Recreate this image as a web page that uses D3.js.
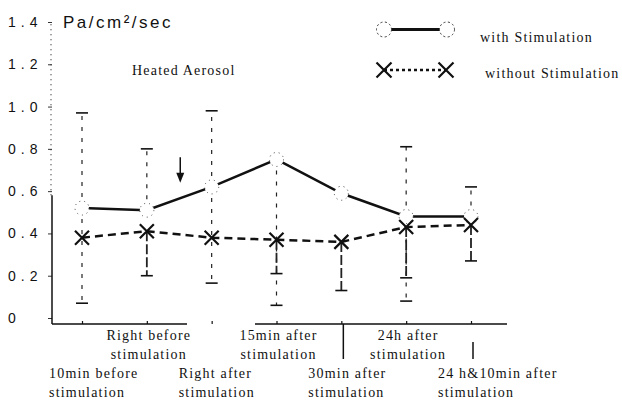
<!DOCTYPE html>
<html>
<head>
<meta charset="utf-8">
<script src="https://cdnjs.cloudflare.com/ajax/libs/d3/7.8.5/d3.min.js"></script>
<style>
  body { margin: 0; background: #fff; }
  text { fill: #111; }
  .serif { font-family: "Liberation Serif", serif; font-size: 14px; letter-spacing: 1.2px; }
  .sans { font-family: "Liberation Sans", sans-serif; }
</style>
</head>
<body>
<script>

// Time points on the x axis
var categories = [
  "10min before stimulation",
  "Right before stimulation",
  "Right after stimulation",
  "15min after stimulation",
  "30min after stimulation",
  "24h after stimulation",
  "24 h&10min after stimulation"
];

// Mean values (Pa/cm2/sec)
var withStim = [0.52, 0.51, 0.62, 0.75, 0.59, 0.48, 0.48];
var withoutStim = [0.38, 0.41, 0.38, 0.37, 0.36, 0.43, 0.44];

// Error bar ends that can still be seen in the scan, null where lost
var withHigh = [0.97, 0.80, 0.98, null, null, 0.81, 0.62];
var withLow = [0.07, null, 0.165, 0.06, null, 0.08, null];
var withoutHigh = [null, null, null, null, null, null, null];
var withoutLow = [null, 0.20, null, 0.21, 0.13, 0.19, 0.27];

var yTicks = [0, 0.2, 0.4, 0.6, 0.8, 1.0, 1.2, 1.4];

// arrow marks the stimulation, between point 2 and 3
var arrowFrom = 0.76;
var arrowTo = 0.64;

var w = 622;
var h = 405;

var svg = d3.select("body")
            .append("svg")
            .attr("width", w)
            .attr("height", h);

var xScale = d3.scalePoint()
               .domain(categories)
               .range([82, 471]);

var yScale = d3.scaleLinear()
               .domain([0, 1.4])
               .range([318, 22]);

var axisY = 324;
var axisLeftX = 52;

// Y axis, labels are left aligned in the original
var yAxis = svg.append("g")
               .attr("transform", `translate(${axisLeftX}, 0)`)
               .call(d3.axisLeft(yScale)
                       .tickValues(yTicks)
                       .tickSize(4)
                       .tickFormat(d => d === 0 ? "0" : d3.format(".1f")(d)));

yAxis.select(".domain").remove();
yAxis.selectAll("text")
     .attr("class", "sans")
     .attr("x", -44)
     .attr("text-anchor", "start")
     .style("font-size", "14px")
     .style("letter-spacing", "5px");
yAxis.selectAll("line").attr("stroke", "#333");

// solid lower part of the y axis, dotted above
svg.append("line")
   .attr("x1", axisLeftX).attr("x2", axisLeftX)
   .attr("y1", axisY).attr("y2", yScale(0.58))
   .attr("stroke", "#111")
   .attr("stroke-width", 1.5);

svg.append("line")
   .attr("x1", axisLeftX - 1).attr("x2", axisLeftX - 1)
   .attr("y1", yScale(0.58)).attr("y2", yScale(1.4))
   .attr("stroke", "#333")
   .attr("stroke-width", 1.2)
   .attr("stroke-dasharray", "1,4");

// X axis
var xAxis = svg.append("g")
               .attr("transform", `translate(0, ${axisY})`)
               .call(d3.axisBottom(xScale)
                       .tickSize(-3)
                       .tickSizeOuter(0)
                       .tickFormat(""));
xAxis.select(".domain").remove();
xAxis.selectAll("line").attr("stroke", "#111").attr("stroke-width", 1.2);

svg.append("line")
   .attr("x1", axisLeftX).attr("x2", 507)
   .attr("y1", axisY).attr("y2", axisY)
   .attr("stroke", "#111")
   .attr("stroke-width", 1.5)
   .attr("stroke-dasharray", "135,68,400");

// category labels, alternating rows
categories.forEach(function(c, i){
  var words = c.split(" ");
  var line1 = words.slice(0, -1).join(" ");
  var line2 = words[words.length - 1];
  var upper = i % 2 == 1;
  var t = svg.append("text")
             .attr("class", "serif")
             .attr("text-anchor", upper ? "middle" : "start")
             .attr("x", upper ? xScale(c) + 2 : xScale(c) - 33)
             .attr("y", upper ? 340 : 378);
  t.append("tspan").text(line1);
  t.append("tspan")
   .attr("x", upper ? xScale(c) + 2 : xScale(c) - 33)
   .attr("dy", 19)
   .text(line2);
});

// leader lines for the lower labels that survived
[4, 6].forEach(function(i){
  svg.append("line")
     .attr("x1", xScale(categories[i]) + 2).attr("x2", xScale(categories[i]) + 2)
     .attr("y1", i == 4 ? axisY : 342).attr("y2", 359)
     .attr("stroke", "#111")
     .attr("stroke-width", 1.5);
});

// Error bars, faded and broken like the scan
function errorBars(means, highs, lows, dash, width){
  means.forEach(function(m, i){
    var cx = xScale(categories[i]);
    [highs[i], lows[i]].forEach(function(end){
      if (end == null) return;
      svg.append("line")
         .attr("x1", cx).attr("x2", cx)
         .attr("y1", yScale(m)).attr("y2", yScale(end))
         .attr("stroke", "#222")
         .attr("stroke-width", width)
         .attr("stroke-dasharray", dash);
      svg.append("line")
         .attr("x1", cx - 6).attr("x2", cx + 6)
         .attr("y1", yScale(end)).attr("y2", yScale(end))
         .attr("stroke", "#111")
         .attr("stroke-width", 1.6);
    });
  });
}

errorBars(withStim, withHigh, withLow, "4,7", 1.2);
errorBars(withoutStim, withoutHigh, withoutLow, "10,3", 1.8);

// Lines
var line = d3.line()
             .x((d, i) => xScale(categories[i]))
             .y(d => yScale(d));

svg.append("path")
   .datum(withoutStim)
   .attr("d", line)
   .attr("fill", "none")
   .attr("stroke", "#111")
   .attr("stroke-width", 2.5)
   .attr("stroke-dasharray", "8,5");

svg.append("path")
   .datum(withStim)
   .attr("d", line)
   .attr("fill", "none")
   .attr("stroke", "#111")
   .attr("stroke-width", 2.5);

// open circles, faded in the scan
svg.selectAll(".dot")
   .data(withStim)
   .enter()
   .append("circle")
   .attr("cx", (d, i) => xScale(categories[i]))
   .attr("cy", d => yScale(d))
   .attr("r", 7)
   .attr("fill", "#fff")
   .attr("stroke", "#444")
   .attr("stroke-width", 1)
   .attr("stroke-dasharray", "1,4");

// crosses
function cross(g, cx, cy, s){
  g.append("path")
   .attr("d", `M${cx - s},${cy - s}L${cx + s},${cy + s}M${cx - s},${cy + s}L${cx + s},${cy - s}`)
   .attr("stroke", "#111")
   .attr("stroke-width", 2.2)
   .attr("fill", "none");
}

withoutStim.forEach(function(d, i){
  cross(svg, xScale(categories[i]), yScale(d), 7);
});

// stimulation arrow
var ax = (xScale(categories[1]) + xScale(categories[2])) / 2 + 1;
svg.append("line")
   .attr("x1", ax).attr("x2", ax)
   .attr("y1", yScale(arrowFrom)).attr("y2", yScale(arrowTo) - 8)
   .attr("stroke", "#111")
   .attr("stroke-width", 1.5);
svg.append("path")
   .attr("d", `M${ax - 4},${yScale(arrowTo) - 10}L${ax + 4},${yScale(arrowTo) - 10}L${ax},${yScale(arrowTo)}Z`)
   .attr("fill", "#111");

// unit and title
svg.append("text")
   .attr("class", "sans")
   .attr("x", 63)
   .attr("y", 28)
   .style("font-size", "17px")
   .style("letter-spacing", "2.5px")
   .text("Pa/cm²/sec");

svg.append("text")
   .attr("class", "serif")
   .attr("x", 132)
   .attr("y", 75)
   .text("Heated Aerosol");

// Legend
var legend = svg.append("g").attr("class", "legend");

legend.append("line")
      .attr("x1", 384).attr("x2", 447)
      .attr("y1", 29.5).attr("y2", 29.5)
      .attr("stroke", "#111")
      .attr("stroke-width", 3);

[384, 447].forEach(function(cx){
  legend.append("circle")
        .attr("cx", cx).attr("cy", 29.5).attr("r", 7.5)
        .attr("fill", "#fff")
        .attr("stroke", "#333")
        .attr("stroke-width", 1)
        .attr("stroke-dasharray", "2,2.5");
});

legend.append("line")
      .attr("x1", 384).attr("x2", 446)
      .attr("y1", 70).attr("y2", 70)
      .attr("stroke", "#111")
      .attr("stroke-width", 2.5)
      .attr("stroke-dasharray", "3,3");

[384, 446].forEach(function(cx){
  cross(legend, cx, 70, 7.5);
});

legend.append("text")
      .attr("class", "serif")
      .attr("x", 480)
      .attr("y", 42)
      .text("with Stimulation");

legend.append("text")
      .attr("class", "serif")
      .attr("x", 485)
      .attr("y", 78)
      .text("without Stimulation");

</script>
</body>
</html>
